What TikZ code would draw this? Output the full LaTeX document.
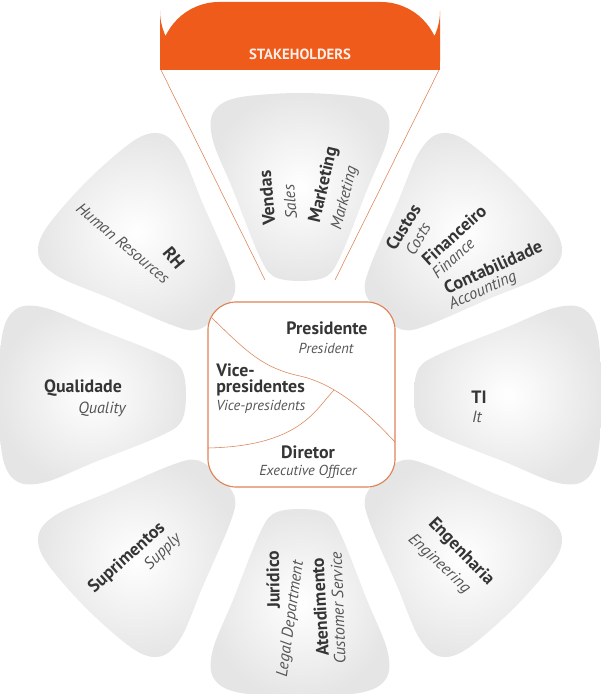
\documentclass[tikz,border=0pt]{standalone}
\usepackage{fontspec}
\setmainfont{PT Sans}
\usepackage{tikz}

\definecolor{laranja}{HTML}{EE5B1B}
\definecolor{linha}{HTML}{DE8357}
\definecolor{texto}{HTML}{353535}
\definecolor{sub}{HTML}{555555}

\tikzset{
	dep/.style={font=\bfseries\fontsize{12.7}{14}\selectfont, text=texto, inner sep=0pt},
	ing/.style={font=\itshape\fontsize{11.5}{13}\selectfont, text=sub, inner sep=0pt},
	ingc/.style={ing, font=\itshape\fontsize{10.3}{12}\selectfont},
	petala/.style={inner color=white, outer color=black!10},
}

\begin{document}
\begin{tikzpicture}[x=0.025cm, y=-0.025cm]
				\useasboundingbox (0,0) rectangle (600,694);
				
				% banner
				\fill[laranja, rounded corners=42] (160,2) rectangle (440,70);
				\fill[laranja] (160,36) rectangle (440,70);
				\node[font=\bfseries\fontsize{10.5}{12}\selectfont, text=white!90!laranja] (stake) at (300,54) {STAKEHOLDERS};
				\coordinate (sl) at (161,70);
				\coordinate (sr) at (439,70);
				\coordinate (tl) at (265,280);
				\coordinate (tr) at (335,280);
				\draw[linha] (sl)--(tl) (sr)--(tr);
				
				% petals
				\foreach \a in {90,45,0,-45,-90,-135,180,135}{
					\shade[petala, shift={(300,395)}, rotate=\a]
					plot[smooth cycle, tension=0.55] coordinates {
						(114,0) (119,-27) (142,-42) (205,-67) (254,-87) (282,-87) (297,-64) (302,0)
						(297,64) (282,87) (254,87) (205,67) (142,42) (119,27)};
				}
				
				% centre
				\node[draw=linha, line width=0.8pt, fill=white, rounded corners=20,
				minimum width=4.675cm, minimum height=4.625cm] (chefia) at (301.5,394.5) {};
				\coordinate (p1) at (212,318);
				\coordinate (p2) at (300,376);
				\coordinate (p3) at (395,442);
				\coordinate (q1) at (334,390);
				\coordinate (q2) at (208,448);
				\draw[linha] (p1) .. controls (245,350) and (262,368) .. (p2)
				.. controls (335,384) and (365,410) .. (p3);
				\draw[linha] (q1) .. controls (315,410) and (300,446) .. (q2);
				
				\node[dep] (pres) at (327,328) {Presidente};
				\node[ingc] (presen) at (326,348) {President};
				\node[dep, anchor=west] (vice) at (216,370) {Vice-};
				\node[dep, anchor=west] (vice2) at (216,388) {presidentes};
				\node[ingc, anchor=west] (viceen) at (216,407) {Vice-presidents};
				\node[dep] (dir) at (308,452) {Diretor};
				\node[ingc] (diren) at (308,472) {Executive Officer};
				
				% top
				\node[dep, rotate=95] (vendas) at (267,198) {Vendas};
				\node[ing, rotate=95] (sales) at (290,202) {Sales};
				\node[dep, rotate=77] (mkt) at (324,185) {Marketing};
				\node[ing, rotate=76] (mkten) at (345,198) {Marketing};
				
				% upper right
				\node[dep, rotate=58] (custos) at (403,227) {Custos};
				\node[ing, rotate=60] (costs) at (418,239) {Costs};
				\node[dep, rotate=42] (fin) at (454,235) {Financeiro};
				\node[ing, rotate=42] (finen) at (453,258) {Finance};
				\node[dep, rotate=24] (cont) at (493,267) {Contabilidade};
				\node[ing, rotate=24] (conten) at (483,291) {Accounting};
				
				% upper left
				\node[dep, rotate=-50] (rh) at (174,258) {RH};
				\node[ing, rotate=-40] (rhen) at (123,243) {Human Resources};
				
				% left / right
				\node[dep] (qual) at (83,388) {Qualidade};
				\node[ing] (qualen) at (102,409) {Quality};
				\node[dep] (ti) at (479,397) {TI};
				\node[ing] (tien) at (477,417) {It};
				
				% lower left / lower right
				\node[dep, rotate=42] (supr) at (127,558) {Suprimentos};
				\node[ing, rotate=45] (supren) at (163,552) {Supply};
				\node[dep, rotate=-46] (eng) at (461,552) {Engenharia};
				\node[ing, rotate=-43] (engen) at (439,564) {Engineering};
				
				% bottom
				\node[dep, rotate=91] (jur) at (273,580) {Jurídico};
				\node[ing, rotate=82] (legal) at (291,619) {Legal Department};
				\node[dep, rotate=93] (atend) at (320,607) {Atendimento};
				\node[ing, rotate=92] (cust) at (338,608) {Customer Service};
			\end{tikzpicture}
\end{document}
